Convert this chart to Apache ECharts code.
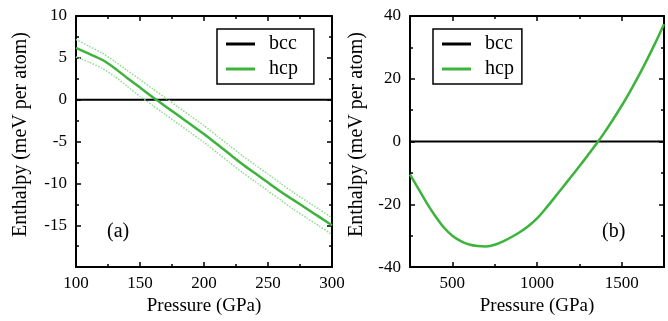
<!DOCTYPE html>
<html>
<head>
<meta charset="utf-8">
<script src="https://cdn.jsdelivr.net/npm/echarts@6/dist/echarts.min.js"></script>
<style>
  html, body { margin: 0; padding: 0; background: #fff; }
  #chart { width: 668px; height: 321px; }
</style>
</head>
<body>
<div id="chart"></div>
<script>
// panel (a): 100-300 GPa
const pressureA = [100, 110, 120, 130, 140, 150, 160, 170, 180, 190, 200, 210, 220, 230, 240, 250, 260, 270, 280, 290, 300]
const hcpA = [6.2, 5.5, 4.8, 3.8, 2.6, 1.45, 0.3, -0.8, -1.9, -3.0, -4.1, -5.3, -6.5, -7.7, -8.8, -9.9, -11.0, -12.0, -13.0, -14.0, -15.0]
const hcpAUpper = [7.2, 6.4, 5.6, 4.6, 3.5, 2.4, 1.3, 0.2, -0.9, -2.0, -3.1, -4.3, -5.5, -6.7, -7.8, -8.9, -10.0, -11.1, -12.1, -13.1, -14.1]
const hcpALower = [5.1, 4.5, 3.8, 2.8, 1.6, 0.4, -0.7, -1.8, -2.9, -4.0, -5.1, -6.3, -7.5, -8.7, -9.8, -10.9, -12.0, -13.1, -14.1, -15.1, -16.1]
const bccA = pressureA.map(() => 0)

// panel (b): 250-1750 GPa
const pressureB = [250, 300, 350, 400, 450, 500, 550, 600, 650, 700, 750, 800, 850, 900, 950, 1000, 1050, 1100, 1150, 1200, 1250, 1300, 1350, 1400, 1450, 1500, 1550, 1600, 1650, 1700, 1750]
const hcpB = [-10.5, -15.1, -19.7, -23.8, -27.4, -30.0, -31.7, -32.8, -33.3, -33.4, -32.9, -31.8, -30.4, -28.8, -26.9, -24.5, -21.4, -18.1, -14.7, -11.3, -7.9, -4.4, -0.8, 3.0, 7.1, 11.4, 16.0, 20.9, 26.1, 31.6, 37.4]
const bccB = pressureB.map(() => 0)

const ticksXB = [500, 1000, 1500]
const minorTicksXB = [750, 1250]

const FONT = '"Liberation Serif", "DejaVu Serif", serif'
const GREEN = '#3cb43c'
const LIGHT_GREEN = '#8fdc8f'

const pairs = (xs, ys) => xs.map((x, i) => [x, ys[i]])

const axisLine = { show: true, onZero: false, lineStyle: { color: '#000', width: 2 } }
const labelStyle = { color: '#000', fontFamily: FONT, fontSize: 17 }
const xNameStyle = { color: '#000', fontFamily: FONT, fontSize: 19 }
const yNameStyle = { color: '#000', fontFamily: FONT, fontSize: 20, padding: [0, 0, 0, 14] }
const tickLine = { color: '#000', width: 1.5 }

function frameAxis(extra) {
  return Object.assign({
    type: 'value',
    axisLine,
    axisTick: { inside: true, length: 5, lineStyle: tickLine },
    minorTick: { show: true, splitNumber: 2, length: 3, lineStyle: tickLine },
    splitLine: { show: false },
    minorSplitLine: { show: false },
    axisLabel: { show: false },
  }, extra)
}

const legendBase = {
  data: ['bcc', 'hcp'], orient: 'vertical', top: 29,
  selectedMode: false, icon: 'rect', itemWidth: 29, itemHeight: 3, itemGap: 5,
  borderColor: '#000', borderWidth: 1.5, borderRadius: 0,
  textStyle: { color: '#000', fontFamily: FONT, fontSize: 20, padding: [0, 0, 0, 9] },
}

const chart = echarts.init(document.getElementById('chart'))

chart.setOption({
  animation: false,
  backgroundColor: '#fff',
  grid: [
    { left: 76, top: 16, width: 256, height: 252 },
    { left: 410, top: 16, width: 254, height: 253 },
  ],
  xAxis: [
    frameAxis({
      gridIndex: 0, position: 'bottom', min: 100, max: 300, interval: 50,
      axisLabel: Object.assign({ show: true, margin: 8, formatter: v => String(v) }, labelStyle),
      name: 'Pressure (GPa)', nameLocation: 'middle', nameGap: 23, nameTextStyle: xNameStyle,
    }),
    frameAxis({ gridIndex: 0, position: 'top', min: 100, max: 300, interval: 50 }),
    frameAxis({
      gridIndex: 1, position: 'bottom', min: 250, max: 1750,
      axisTick: { inside: true, length: 5, customValues: ticksXB, lineStyle: tickLine },
      minorTick: { show: false },
      axisLabel: Object.assign({ show: true, margin: 8, customValues: ticksXB, formatter: v => String(v) }, labelStyle),
      name: 'Pressure (GPa)', nameLocation: 'middle', nameGap: 23, nameTextStyle: xNameStyle,
    }),
    frameAxis({
      gridIndex: 1, position: 'top', min: 250, max: 1750,
      axisTick: { inside: true, length: 5, customValues: ticksXB, lineStyle: tickLine },
      minorTick: { show: false },
    }),
    frameAxis({
      gridIndex: 1, position: 'bottom', min: 250, max: 1750, axisLine: { show: false, onZero: false },
      axisTick: { inside: true, length: 3, customValues: minorTicksXB, lineStyle: tickLine },
      minorTick: { show: false },
    }),
    frameAxis({
      gridIndex: 1, position: 'top', min: 250, max: 1750, axisLine: { show: false, onZero: false },
      axisTick: { inside: true, length: 3, customValues: minorTicksXB, lineStyle: tickLine },
      minorTick: { show: false },
    }),
  ],
  yAxis: [
    frameAxis({
      gridIndex: 0, position: 'left', min: -20, max: 10, interval: 5,
      axisLabel: Object.assign({ show: true, margin: 9, formatter: v => (v === -20 ? '' : String(v)) }, labelStyle),
      name: 'Enthalpy (meV per atom)', nameLocation: 'middle', nameGap: 45, nameTextStyle: yNameStyle,
    }),
    frameAxis({ gridIndex: 0, position: 'right', min: -20, max: 10, interval: 5 }),
    frameAxis({
      gridIndex: 1, position: 'left', min: -40, max: 40, interval: 20,
      axisLabel: Object.assign({ show: true, margin: 9, formatter: v => String(v) }, labelStyle),
      name: 'Enthalpy (meV per atom)', nameLocation: 'middle', nameGap: 43, nameTextStyle: yNameStyle,
    }),
    frameAxis({ gridIndex: 1, position: 'right', min: -40, max: 40, interval: 20 }),
  ],
  legend: [
    Object.assign({}, legendBase, { left: 217, padding: [5, 16, 5, 9] }),
    Object.assign({}, legendBase, { left: 433, padding: [5, 8, 5, 9] }),
  ],
  series: [
    {
      name: 'bcc', type: 'line', xAxisIndex: 0, yAxisIndex: 0, symbol: 'none',
      data: pairs(pressureA, bccA), lineStyle: { color: '#000', width: 2 }, itemStyle: { color: '#000' }, z: 2,
    },
    {
      name: 'hcp upper', type: 'line', xAxisIndex: 0, yAxisIndex: 0, symbol: 'none', smooth: 0.15,
      data: pairs(pressureA, hcpAUpper), lineStyle: { color: LIGHT_GREEN, width: 1.5, type: 'dotted' }, z: 3,
    },
    {
      name: 'hcp lower', type: 'line', xAxisIndex: 0, yAxisIndex: 0, symbol: 'none', smooth: 0.15,
      data: pairs(pressureA, hcpALower), lineStyle: { color: LIGHT_GREEN, width: 1.5, type: 'dotted' }, z: 3,
    },
    {
      name: 'hcp', type: 'line', xAxisIndex: 0, yAxisIndex: 0, symbol: 'none', smooth: 0.15,
      data: pairs(pressureA, hcpA), lineStyle: { color: GREEN, width: 2.5 }, itemStyle: { color: GREEN }, z: 4,
    },
    {
      name: 'bcc', type: 'line', xAxisIndex: 2, yAxisIndex: 2, symbol: 'none',
      data: pairs(pressureB, bccB), lineStyle: { color: '#000', width: 2 }, itemStyle: { color: '#000' }, z: 2,
    },
    {
      name: 'hcp', type: 'line', xAxisIndex: 2, yAxisIndex: 2, symbol: 'none', smooth: 0.3,
      data: pairs(pressureB, hcpB), lineStyle: { color: GREEN, width: 2.5 }, itemStyle: { color: GREEN }, z: 4,
    },
  ],
  graphic: [
    { type: 'text', left: 107, top: 222, style: { text: '(a)', font: '20px ' + FONT, fill: '#000' } },
    { type: 'text', left: 602, top: 222, style: { text: '(b)', font: '20px ' + FONT, fill: '#000' } },
  ],
})
</script>
</body>
</html>
